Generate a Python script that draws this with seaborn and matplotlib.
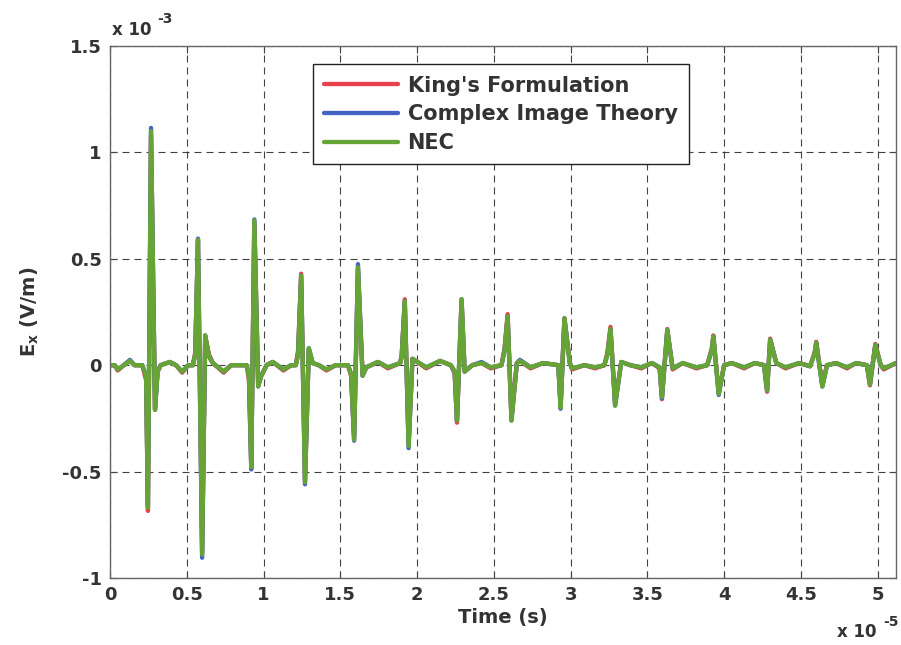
import matplotlib
matplotlib.use("Agg")
import matplotlib.pyplot as plt
import seaborn as sns
import pandas as pd

# time in units of 1e-5 s, field in units of 1e-3 V/m
t = [0.00, 0.03, 0.05, 0.09, 0.13, 0.16, 0.21, 0.235, 0.247, 0.267, 0.293, 0.31, 0.33,
     0.39, 0.43, 0.47, 0.51, 0.54, 0.555, 0.573, 0.60, 0.62, 0.645, 0.67, 0.74, 0.79,
     0.84, 0.89, 0.905, 0.92, 0.94, 0.965, 0.985, 1.02, 1.06, 1.13, 1.18, 1.21, 1.225,
     1.245, 1.27, 1.295, 1.32, 1.36, 1.41, 1.47, 1.55, 1.57, 1.59, 1.615, 1.645, 1.67,
     1.745, 1.81, 1.89, 1.90, 1.92, 1.945, 1.97, 2.06, 2.15, 2.22, 2.245, 2.26, 2.29,
     2.31, 2.36, 2.42, 2.48, 2.55, 2.57, 2.59, 2.615, 2.65, 2.67, 2.74, 2.82, 2.92,
     2.935, 2.96, 2.995, 3.01, 3.09, 3.16, 3.22, 3.24, 3.26, 3.29, 3.33, 3.39, 3.46,
     3.53, 3.58, 3.595, 3.63, 3.665, 3.73, 3.82, 3.89, 3.92, 3.93, 3.965, 4.00, 4.05,
     4.13, 4.20, 4.26, 4.28, 4.30, 4.34, 4.40, 4.49, 4.56, 4.59, 4.60, 4.64, 4.67,
     4.73, 4.80, 4.86, 4.93, 4.95, 4.985, 5.02, 5.04, 5.12]

ex_nec = [0.0, 0.0, -0.02, 0.0, 0.02, 0.0, 0.0, -0.05, -0.67, 1.10, -0.21, -0.03, 0.0,
          0.015, 0.0, -0.03, 0.0, 0.0, 0.05, 0.59, -0.89, 0.14, 0.04, 0.01, -0.03, 0.0,
          0.0, 0.0, -0.05, -0.48, 0.68, -0.10, -0.05, 0.0, 0.015, -0.02, 0.0, 0.0, 0.05,
          0.42, -0.55, 0.08, 0.01, 0.0, -0.02, 0.0, 0.0, -0.04, -0.35, 0.46, -0.05, -0.01,
          0.015, -0.01, 0.01, 0.04, 0.30, -0.38, 0.03, -0.01, 0.02, 0.0, -0.03, -0.26, 0.31,
          -0.03, 0.0, 0.01, -0.01, 0.0, 0.07, 0.23, -0.26, 0.01, 0.02, -0.01, 0.01, 0.0,
          -0.20, 0.22, 0.01, -0.015, 0.0, -0.01, 0.0, 0.05, 0.17, -0.19, 0.015, 0.0, -0.01,
          0.01, -0.01, -0.15, 0.165, -0.015, 0.01, -0.01, 0.0, 0.07, 0.135, -0.135, 0.0, 0.01,
          -0.01, 0.01, 0.0, -0.12, 0.12, 0.01, -0.01, 0.01, -0.005, 0.055, 0.105, -0.10, 0.0,
          0.01, -0.01, 0.01, 0.0, -0.09, 0.095, 0.0, -0.015, 0.01]

ex_king = [0.0, 0.0, -0.025, 0.0, 0.02, 0.0, 0.0, -0.07, -0.685, 1.08, -0.20, -0.03, 0.0,
           0.015, 0.0, -0.035, 0.0, 0.0, 0.06, 0.58, -0.88, 0.13, 0.05, 0.01, -0.035, 0.0,
           0.0, 0.0, -0.07, -0.47, 0.67, -0.09, -0.05, 0.0, 0.015, -0.025, 0.0, 0.0, 0.07,
           0.43, -0.54, 0.07, 0.01, 0.0, -0.025, 0.0, 0.0, -0.05, -0.34, 0.45, -0.04, -0.01,
           0.015, -0.015, 0.01, 0.05, 0.31, -0.37, 0.03, -0.015, 0.02, 0.0, -0.04, -0.27, 0.30,
           -0.03, 0.0, 0.01, -0.015, 0.0, 0.08, 0.24, -0.25, 0.01, 0.02, -0.015, 0.01, 0.0,
           -0.19, 0.22, 0.01, -0.02, 0.0, -0.015, 0.0, 0.06, 0.18, -0.18, 0.015, 0.0, -0.015,
           0.01, -0.015, -0.16, 0.17, -0.02, 0.01, -0.015, 0.0, 0.08, 0.14, -0.13, 0.0, 0.01,
           -0.015, 0.01, 0.0, -0.125, 0.125, 0.01, -0.015, 0.01, -0.005, 0.06, 0.11, -0.095, 0.0,
           0.01, -0.015, 0.01, 0.0, -0.095, 0.10, 0.0, -0.02, 0.01]

ex_cit = [0.0, 0.0, -0.02, 0.0, 0.025, 0.0, 0.0, -0.05, -0.66, 1.115, -0.21, -0.03, 0.0,
          0.015, 0.0, -0.03, 0.0, 0.0, 0.05, 0.595, -0.905, 0.14, 0.04, 0.01, -0.03, 0.0,
          0.0, 0.0, -0.05, -0.49, 0.685, -0.10, -0.05, 0.0, 0.015, -0.02, 0.0, 0.0, 0.05,
          0.42, -0.56, 0.08, 0.01, 0.0, -0.02, 0.0, 0.0, -0.04, -0.355, 0.475, -0.05, -0.01,
          0.015, -0.01, 0.01, 0.04, 0.30, -0.39, 0.03, -0.01, 0.02, 0.0, -0.03, -0.26, 0.31,
          -0.03, 0.0, 0.015, -0.01, 0.0, 0.07, 0.23, -0.26, 0.01, 0.025, -0.01, 0.01, 0.0,
          -0.205, 0.22, 0.01, -0.015, 0.0, -0.01, 0.0, 0.05, 0.17, -0.19, 0.015, 0.0, -0.01,
          0.01, -0.01, -0.155, 0.165, -0.015, 0.01, -0.01, 0.0, 0.07, 0.135, -0.14, 0.0, 0.01,
          -0.01, 0.01, 0.0, -0.12, 0.12, 0.01, -0.01, 0.01, -0.005, 0.055, 0.105, -0.10, 0.0,
          0.01, -0.01, 0.01, 0.0, -0.09, 0.095, 0.0, -0.015, 0.01]

series_names = ["King's Formulation", "Complex Image Theory", "NEC"]
series_colors = ["#e8404c", "#4462c4", "#66a535"]
x_ticks = [0, 0.5, 1, 1.5, 2, 2.5, 3, 3.5, 4, 4.5, 5]
x_tick_labels = ["0", "0.5", "1", "1.5", "2", "2.5", "3", "3.5", "4", "4.5", "5"]
y_ticks = [-1, -0.5, 0, 0.5, 1, 1.5]
y_tick_labels = ["-1", "-0.5", "0", "0.5", "1", "1.5"]

sns.set_theme(style="white")
plt.rcParams["font.family"] = ["DejaVu Sans"]
plt.rcParams["mathtext.fontset"] = "custom"
plt.rcParams["mathtext.rm"] = "DejaVu Sans:bold"
plt.rcParams["mathtext.bf"] = "DejaVu Sans:bold"
plt.rcParams["mathtext.it"] = "DejaVu Sans:bold"

fig = plt.figure(figsize=(9.01, 6.45), dpi=100)
fig.patch.set_facecolor("white")
ax = fig.add_axes([0.1221, 0.1039, 0.8724, 0.8248])
ax.set_facecolor("white")

for name, vals, col in zip(series_names, [ex_king, ex_cit, ex_nec], series_colors):
    df = pd.DataFrame({"t": t, "ex": vals})
    sns.lineplot(data=df, x="t", y="ex", color=col, lw=3.1, ax=ax, label=name,
                 estimator=None, sort=False)

ax.set_xlim(0, 5.12)
ax.set_ylim(-1, 1.5)
ax.set_xticks(x_ticks)
ax.set_xticklabels(x_tick_labels)
ax.set_yticks(y_ticks)
ax.set_yticklabels(y_tick_labels)

text_col = "#333333"
for lab in ax.get_xticklabels() + ax.get_yticklabels():
    lab.set_fontweight("bold")
    lab.set_fontsize(13)
    lab.set_color(text_col)

ax.tick_params(axis="both", which="both", direction="in", length=5, width=0.8,
               top=True, right=True, bottom=True, left=True, colors="#444444",
               labelcolor=text_col, pad=6)

ax.grid(True, color="#222222", linestyle=(0, (6.3, 4.5)), linewidth=0.8, alpha=0.85)
for s in ax.spines.values():
    s.set_color("#666666")
    s.set_linewidth(1.0)
    s.set_visible(True)

ax.set_xlabel("Time (s)", fontsize=14, fontweight="bold", color=text_col, labelpad=3)
ax.set_ylabel(r"$\mathbf{E_x}$ (V/m)", fontsize=14, fontweight="bold", color=text_col)
ax.yaxis.set_label_coords(-0.088, 0.5)

# exponent annotations (MATLAB style)
fig.text(0.1243, 0.946, "x 10", fontsize=12, fontweight="bold", color=text_col,
         ha="left", va="baseline")
fig.text(0.1740, 0.964, "-3", fontsize=10, fontweight="bold", color=text_col,
         ha="left", va="baseline")
fig.text(0.929, 0.0124, "x 10", fontsize=12, fontweight="bold", color=text_col,
         ha="left", va="baseline")
fig.text(0.980, 0.0295, "-5", fontsize=10, fontweight="bold", color=text_col,
         ha="left", va="baseline")

leg = ax.legend(loc="upper left", bbox_to_anchor=(0.258, 0.966), frameon=True,
                fancybox=False, edgecolor="#222222", framealpha=1, handlelength=3.55,
                prop={"weight": "bold", "size": 15}, borderpad=0.55,
                labelspacing=0.42, handletextpad=0.45, borderaxespad=0.0)
leg.get_frame().set_linewidth(1.0)
for txt in leg.get_texts():
    txt.set_color(text_col)

fig.savefig("out.png", dpi=100, facecolor="white")
